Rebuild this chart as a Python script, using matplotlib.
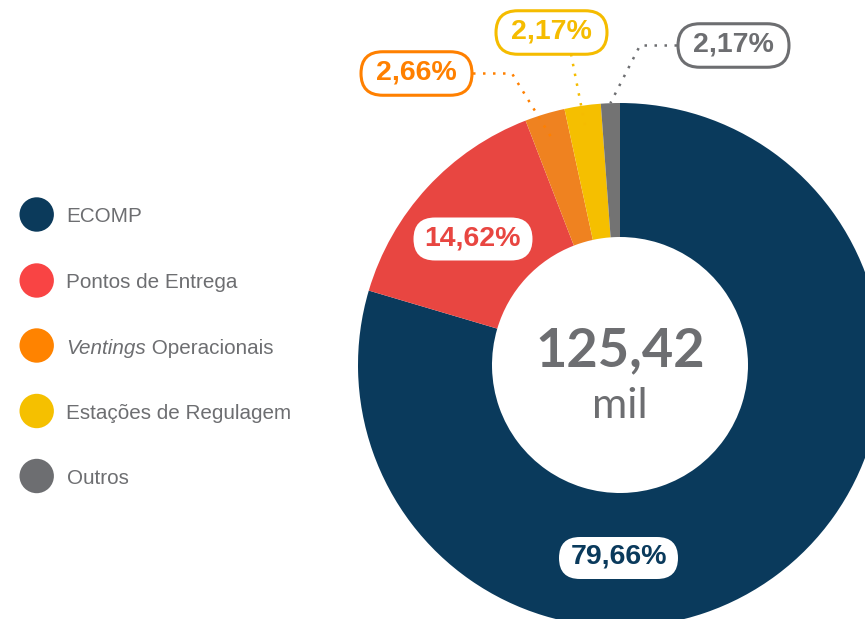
import matplotlib.pyplot as plt
from matplotlib.patches import FancyBboxPatch, Circle
import numpy as np

plt.rcParams['font.family'] = ['Liberation Sans', 'DejaVu Sans']

categorias = ['ECOMP', 'Pontos de Entrega', 'Ventings Operacionais', 'Estações de Regulagem', 'Outros']
# tamanho das fatias como desenhadas
fatias = [79.6, 14.55, 2.47, 2.23, 1.17]
rotulos = ['79,66%', '14,62%', '2,66%', '2,17%', '2,17%']
total = '125,42'
unidade = 'mil'

cores_fatia = ['#0a3a5c', '#e84641', '#ef8220', '#f5bf00', '#737373']
cores_legenda = ['#0b3a5b', '#f94444', '#ff8300', '#f5c000', '#6d6e71']
cores_texto = ['#0a3a5c', '#e84641', '#ff8000', '#f5bc00', '#6d6e71']
cinza = '#6d6e71'

W, H = 865, 619
fy = lambda y: H - y   # layout read in image pixels (y down)

fig = plt.figure(figsize=(W / 100, H / 100), dpi=100)
ax = fig.add_axes([0, 0, 1, 1])

cx, cy = 620, fy(365)
R, r_in = 262, 128
wedges, _ = ax.pie(fatias, colors=cores_fatia, startangle=90, counterclock=False,
                   radius=R, center=(cx, cy), frame=True,
                   wedgeprops=dict(width=R - r_in, linewidth=0))
ax.set_xlim(0, W)
ax.set_ylim(0, H)
ax.set_aspect('equal')
ax.axis('off')

# centro
ax.text(cx, fy(366), total, ha='center', va='baseline', fontsize=39,
        fontweight='bold', color=cinza, family='Lato')
ax.text(cx, fy(418), unidade, ha='center', va='baseline', fontsize=31,
        fontweight='normal', color=cinza, family='Lato')

def pill(x, y, w, h, txt, cor, borda=None):
    ax.add_patch(FancyBboxPatch((x - w / 2, fy(y) - h / 2), w, h,
                                boxstyle='round,pad=0,rounding_size=%f' % (h / 2),
                                facecolor='white', edgecolor=borda if borda else 'none',
                                linewidth=2.2, zorder=5))
    ax.text(x, fy(y) + 1, txt, ha='center', va='center', fontsize=20.5,
            fontweight='bold', color=cor, zorder=6)

# rotulos dentro do anel
pill(618.5, 558, 119, 42, rotulos[0], cores_texto[0])
pill(473, 239, 119, 43, rotulos[1], cores_texto[1])

# rotulos de fora, com linha pontilhada ate a fatia
caixas = [(416.5, 73.5), (551.5, 32.5), (733.5, 45.5)]
inicio = [(473, 73.5), (571, 54), (677, 45.5)]
cotovelo = [(512, 73.5), None, (640, 45.5)]
r_ponta = [236, 235, 262]
for k, i in enumerate([2, 3, 4]):
    pill(caixas[k][0], caixas[k][1], 111, 43.5, rotulos[i], cores_texto[i], cores_texto[i])
    w = wedges[i]
    ang = np.deg2rad((w.theta1 + w.theta2) / 2)
    ponta = (cx + r_ponta[k] * np.cos(ang), cy + r_ponta[k] * np.sin(ang))
    pts = [(inicio[k][0], fy(inicio[k][1]))]
    if cotovelo[k]:
        pts.append((cotovelo[k][0], fy(cotovelo[k][1])))
    pts.append(ponta)
    xs, ys = zip(*pts)
    ax.plot(xs, ys, linestyle=(0, (1, 3.0)), linewidth=1.8, color=cores_texto[i], zorder=4)

# legenda
ys_leg = [214.5, 280.5, 345.5, 411, 476]
for i, nome in enumerate(categorias):
    ax.add_patch(Circle((36.7, fy(ys_leg[i])), 17.2, color=cores_legenda[i], linewidth=0))
    base = fy(ys_leg[i] + 8)
    if nome.startswith('Ventings'):
        t1 = ax.text(66.5, base, 'Ventings', ha='left', va='baseline', fontsize=14.9,
                     color=cinza, style='italic')
        ax.annotate(' Operacionais', xy=(1, 0), xycoords=t1, ha='left', va='bottom',
                    fontsize=14.9, color=cinza)
    else:
        ax.text(66.5, base, nome, ha='left', va='baseline', fontsize=14.9, color=cinza)

fig.savefig('out.png', dpi=100)
